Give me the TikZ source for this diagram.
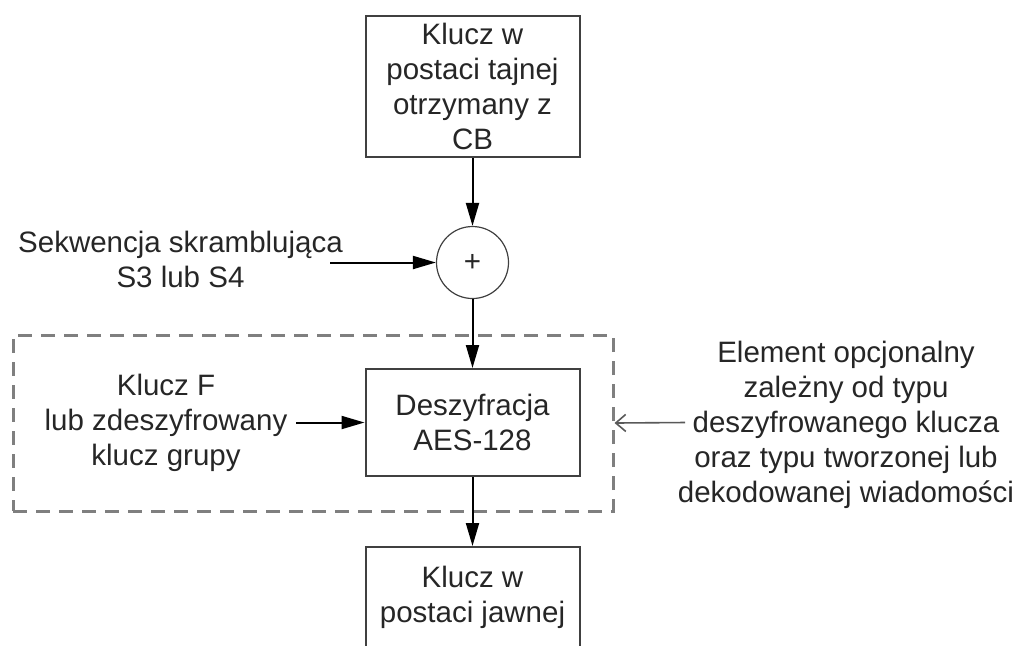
\documentclass[tikz,border=0pt]{standalone}
\usepackage{fontspec}
\setmainfont{Liberation Sans}
\usetikzlibrary{arrows.meta}
\definecolor{ink}{HTML}{262626}
\definecolor{frame}{HTML}{404040}
\definecolor{optgray}{HTML}{7F7F7F}
\begin{document}
\begin{tikzpicture}[x=0.5pt,y=-0.5pt,
  txt/.style={font=\fontsize{14.75}{17.5}\selectfont, text=ink, align=center},
  blok/.style={txt, draw=frame, line width=1pt, inner sep=0pt, minimum width=107pt},
  sumnode/.style={circle, draw=frame, line width=0.6pt, minimum size=36pt, inner sep=0pt, txt},
  lbl/.style={txt, inner sep=0pt, anchor=north},
  flow/.style={draw=black, line width=1pt, -{Triangle[length=11.5pt,width=6.5pt]}},
  optbox/.style={draw=optgray, line width=1.5pt, dash pattern=on 7pt off 4.5pt,
    minimum width=300pt, minimum height=88pt, inner sep=0pt},
  note/.style={draw=optgray!70!black, line width=0.8pt, -{Straight Barb[length=5pt,width=8.5pt]}}
]
\useasboundingbox (0,0) rectangle (1021,645);
\clip (0,0) rectangle (1021,645);

% optional-element frame
\node[optbox] (opt) at (313,423) {};

% main chain
\node[blok, minimum height=70.5pt] (src) at (472.5,86.5) {Klucz w\\postaci tajnej\\otrzymany z\\CB};
\node[sumnode] (sum) at (472.5,262.5) {+};
\node[blok, minimum height=53.5pt] (dec) at (472.5,422.5) {Deszyfracja\\AES-128};
\node[blok, minimum height=50pt] (out) at (472.5,597) {Klucz w\\postaci jawnej};

% side inputs and note
\node[lbl] (seq) at (180.5,231) {Sekwencja skramblująca\\S3 lub S4};
\node[lbl] (kf) at (166,374) {Klucz F\\lub zdeszyfrowany\\klucz grupy};
\node[lbl] (el) at (846,341) {Element opcjonalny\\zależny od typu\\deszyfrowanego klucza\\oraz typu tworzonej lub\\dekodowanej wiadomości};
\coordinate (seqend) at (330,262.5);
\coordinate (kfend) at (296,422.5);
\coordinate (elend) at (685,422.5);

% connectors
\draw[flow] (src) -- (sum);
\draw[flow] (seqend) -- (sum.west);
\draw[flow] (sum) -- (dec);
\draw[flow] (kfend) -- (dec.west);
\draw[flow] (dec) -- (out);
\draw[note] (elend) -- (opt.east);
\end{tikzpicture}
\end{document}
